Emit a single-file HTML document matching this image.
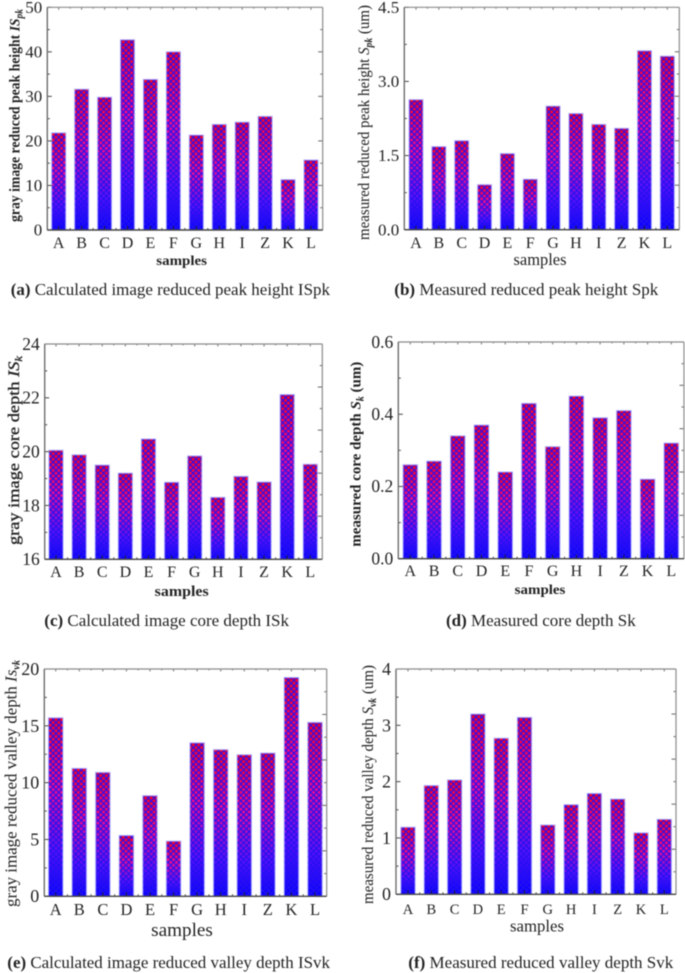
<!DOCTYPE html>
<html lang="en">
<head>
<meta charset="utf-8">
<title>Reduced peak height, core depth and valley depth charts</title>
<style>
html,body{margin:0;padding:0;background:#fff;}
#figure{display:block;width:685px;height:973px;filter:blur(0.4px);font-family:"Liberation Serif",serif;fill:#222;}
.b{font-weight:bold;}
.i{font-style:italic;}
.cap{font-size:17px;fill:#222;}
</style>
</head>
<body>
<svg id="figure" xmlns="http://www.w3.org/2000/svg" width="685" height="973" viewBox="0 0 685 973">
<defs>
<linearGradient id="barGradient" x1="0" y1="0" x2="0" y2="1">
<stop offset="0" stop-color="#ff0020"/>
<stop offset="0.4" stop-color="#f00c90"/>
<stop offset="0.75" stop-color="#5a10fa"/>
<stop offset="1" stop-color="#0000ff"/>
</linearGradient>
<pattern id="barHatch" patternUnits="userSpaceOnUse" width="5.6" height="5.6">
<path d="M0 0L5.6 5.6M5.6 0L0 5.6" stroke="#2410f0" stroke-width="1.15" fill="none"/>
</pattern>
</defs>

<g id="panel-a"></g>
<g id="panel-b"></g>
<g id="panel-c"></g>
<g id="panel-d"></g>
<g id="panel-e"></g>
<g id="panel-f"></g>

<text class="b" font-size="14.5" transform="translate(19.5 222) rotate(-90)" textLength="213" lengthAdjust="spacingAndGlyphs">gray image reduced peak height <tspan class="i">IS</tspan><tspan class="i" font-size="10" dy="3">pk</tspan></text>
<text font-size="15.5" transform="translate(369 240) rotate(-90)" textLength="235" lengthAdjust="spacingAndGlyphs">measured reduced peak height  <tspan class="i">S</tspan><tspan class="i b" font-size="10" dy="3">pk</tspan><tspan dy="-3"> (um)</tspan></text>
<text font-size="16" stroke="#222" stroke-width="0.3" transform="translate(19 545) rotate(-90)" textLength="189" lengthAdjust="spacingAndGlyphs">gray image core depth <tspan class="i">IS</tspan><tspan class="i" font-size="11" dy="3">k</tspan></text>
<text class="b" font-size="15" transform="translate(360.7 546.7) rotate(-90)" textLength="185" lengthAdjust="spacingAndGlyphs">measured core depth  <tspan class="i">S</tspan><tspan class="i" font-size="10" dy="3">k</tspan><tspan dy="-3"> (um)</tspan></text>
<text font-size="16.5" transform="translate(16.7 907) rotate(-90)" textLength="247" lengthAdjust="spacingAndGlyphs">gray image reduced valley depth <tspan class="i">Is</tspan><tspan class="i b" font-size="10" dy="3">vk</tspan></text>
<text font-size="15.5" transform="translate(373 904) rotate(-90)" textLength="239" lengthAdjust="spacingAndGlyphs">measured reduced valley depth <tspan class="i">S</tspan><tspan class="i b" font-size="10" dy="3">vk</tspan><tspan dy="-3"> (um)</tspan></text>

<text class="b" font-size="14" x="156.3" y="265" textLength="50.7" lengthAdjust="spacingAndGlyphs">samples</text>
<text font-size="17" x="513.5" y="265" textLength="53" lengthAdjust="spacingAndGlyphs">samples</text>
<text class="b" font-size="15" x="154.7" y="596" textLength="54" lengthAdjust="spacingAndGlyphs">samples</text>
<text class="b" font-size="14" x="514.7" y="594" textLength="50.7" lengthAdjust="spacingAndGlyphs">samples</text>
<text font-size="19" x="151.2" y="936" textLength="61.7" lengthAdjust="spacingAndGlyphs">samples</text>
<text font-size="17" x="510" y="931.7" textLength="54" lengthAdjust="spacingAndGlyphs">samples</text>

<text class="cap" x="10.7" y="295" textLength="319.3" lengthAdjust="spacingAndGlyphs"><tspan class="b">(a)</tspan> Calculated image reduced peak height ISpk</text>
<text class="cap" x="394.3" y="295" textLength="264" lengthAdjust="spacingAndGlyphs"><tspan class="b">(b)</tspan> Measured reduced peak height Spk</text>
<text class="cap" x="44.3" y="626" textLength="244.7" lengthAdjust="spacingAndGlyphs"><tspan class="b">(c)</tspan> Calculated image core depth ISk</text>
<text class="cap" x="446" y="626" textLength="189.7" lengthAdjust="spacingAndGlyphs"><tspan class="b">(d)</tspan> Measured core depth Sk</text>
<text class="cap" x="7.3" y="968" textLength="322.7" lengthAdjust="spacingAndGlyphs"><tspan class="b">(e)</tspan> Calculated image reduced valley depth ISvk</text>
<text class="cap" x="408.3" y="968" textLength="265" lengthAdjust="spacingAndGlyphs"><tspan class="b">(f)</tspan> Measured reduced valley depth Svk</text>
</svg>

<script>
const categories = ["A","B","C","D","E","F","G","H","I","Z","K","L"];

const valuesA = [21.8,31.6,29.8,42.7,33.8,40.0,21.3,23.7,24.2,25.5,11.3,15.7];
const valuesB = [2.63,1.68,1.80,0.91,1.54,1.02,2.50,2.35,2.13,2.05,3.62,3.51];
const valuesC = [20.05,19.88,19.50,19.20,20.47,18.86,19.84,18.30,19.08,18.87,22.12,19.53];
const valuesD = [0.26,0.27,0.34,0.37,0.24,0.43,0.31,0.45,0.39,0.41,0.22,0.32];
const valuesE = [15.7,11.25,10.9,5.35,8.85,4.85,13.5,12.9,12.45,12.6,19.25,15.3];
const valuesF = [1.19,1.93,2.03,3.20,2.77,3.14,1.23,1.59,1.79,1.69,1.09,1.33];

const ticksA = ["0","10","20","30","40","50"];
const ticksB = ["0.0","1.5","3.0","4.5"];
const ticksC = ["16","18","20","22","24"];
const ticksD = ["0.0","0.2","0.4","0.6"];
const ticksE = ["0","5","10","15","20"];
const ticksF = ["0","1","2","3","4"];

const NS = "http://www.w3.org/2000/svg";

function make(tag, parent) {
  const el = document.createElementNS(NS, tag);
  parent.appendChild(el);
  return el;
}

function tickLine(parent, x1, y1, x2, y2, color, width) {
  const el = make("line", parent);
  
  
  el.setAttribute("x1", x1);
  el.setAttribute("y1", y1);
  el.setAttribute("x2", x2);
  el.setAttribute("y2", y2);
  el.setAttribute("stroke", color);
  el.setAttribute("stroke-width", width);
}

function drawPanel(id, values, ticks, box) {
  const root = document.getElementById(id);
  const first = Number(ticks[0]);
  const last = Number(ticks[ticks.length - 1]);
  const yScale = v => box.bottom - (v - first) / (last - first) * (box.bottom - box.top);
  const step = (box.xLast - box.xFirst) / (categories.length - 1);
  const xScale = i => box.xFirst + i * step;
  const barWidth = step * 0.61;

  values.forEach((v, i) => {
    const x = xScale(i) - barWidth / 2;
    const y = yScale(v);
    const h = box.bottom - y;

    const fillRect = make("rect", root);
    
    
    fillRect.setAttribute("x", x);
    fillRect.setAttribute("y", y);
    fillRect.setAttribute("width", barWidth);
    fillRect.setAttribute("height", h);
    fillRect.setAttribute("fill", "url(#barGradient)");
    fillRect.setAttribute("stroke", "#a4a4ff");
    fillRect.setAttribute("stroke-width", "1");

    const hatch = make("rect", root);
    
    
    hatch.setAttribute("x", x + 0.5);
    hatch.setAttribute("y", y + 0.5);
    hatch.setAttribute("width", barWidth - 1);
    hatch.setAttribute("height", Math.max(h - 0.5, 0));
    hatch.setAttribute("fill", "url(#barHatch)");

    const label = make("text", root);
    
    
    label.setAttribute("x", xScale(i));
    label.setAttribute("y", box.catY);
    label.setAttribute("text-anchor", "middle");
    label.setAttribute("font-size", box.catSize);
    label.textContent = categories[i];

    tickLine(root, xScale(i), box.bottom, xScale(i), box.bottom - 4, "#222", 1);
    tickLine(root, xScale(i), box.top, xScale(i), box.top + 2.5, "#777", 1);
    if (i < categories.length - 1) {
      tickLine(root, xScale(i) + step / 2, box.bottom, xScale(i) + step / 2, box.bottom - 2, "#444", 1);
      tickLine(root, xScale(i) + step / 2, box.top, xScale(i) + step / 2, box.top + 1.5, "#888", 1);
    }
  });

  ticks.forEach((t, i) => {
    const v = Number(t);
    const y = yScale(v);
    tickLine(root, box.left, y, box.left + 4.5, y, "#444", 1);
    if (i < ticks.length - 1) {
      const mid = yScale((v + Number(ticks[i + 1])) / 2);
      tickLine(root, box.left, mid, box.left + 2.5, mid, "#444", 1);
    }
    const label = make("text", root);
    
    
    label.setAttribute("x", box.left - 5);
    label.setAttribute("y", y + box.tickSize * 0.33);
    label.setAttribute("text-anchor", "end");
    label.setAttribute("font-size", box.tickSize);
    label.textContent = t;
  });

  for (let k = 1; k < 10; k++) {
    const y = box.bottom - k * (box.bottom - box.top) / 10;
    const len = k % 2 === 0 ? 4.5 : 2.5;
    tickLine(root, box.right, y, box.right - len, y, "#666", 1);
  }

  tickLine(root, box.left, box.top, box.right, box.top, "#8a8a8a", 1.2);
  tickLine(root, box.right, box.top, box.right, box.bottom, "#8a8a8a", 1.2);
  tickLine(root, box.left, box.top, box.left, box.bottom, "#6e6e6e", 1.4);
  tickLine(root, box.left, box.bottom, box.right, box.bottom, "#444", 1.4);
}

drawPanel("panel-a", valuesA, ticksA, {left:47.3, right:322.7, top:7.3, bottom:230, xFirst:58.7, xLast:311, catY:248, catSize:16, tickSize:17});
drawPanel("panel-b", valuesB, ticksB, {left:404.3, right:679.3, top:7.3, bottom:229.7, xFirst:416, xLast:667.3, catY:248, catSize:16, tickSize:17});
drawPanel("panel-c", valuesC, ticksC, {left:44.7, right:322.3, top:344, bottom:559.3, xFirst:56, xLast:310.3, catY:577, catSize:16, tickSize:17.5});
drawPanel("panel-d", valuesD, ticksD, {left:398.3, right:684, top:342, bottom:558.7, xFirst:410.3, xLast:671.3, catY:576, catSize:16, tickSize:17.5});
drawPanel("panel-e", valuesE, ticksE, {left:44.3, right:326.7, top:669, bottom:896.3, xFirst:55.7, xLast:315, catY:915, catSize:16.5, tickSize:18});
drawPanel("panel-f", valuesF, ticksF, {left:396, right:676, top:669, bottom:894.3, xFirst:408, xLast:664.3, catY:914, catSize:14.5, tickSize:18});
</script>
</body>
</html>
